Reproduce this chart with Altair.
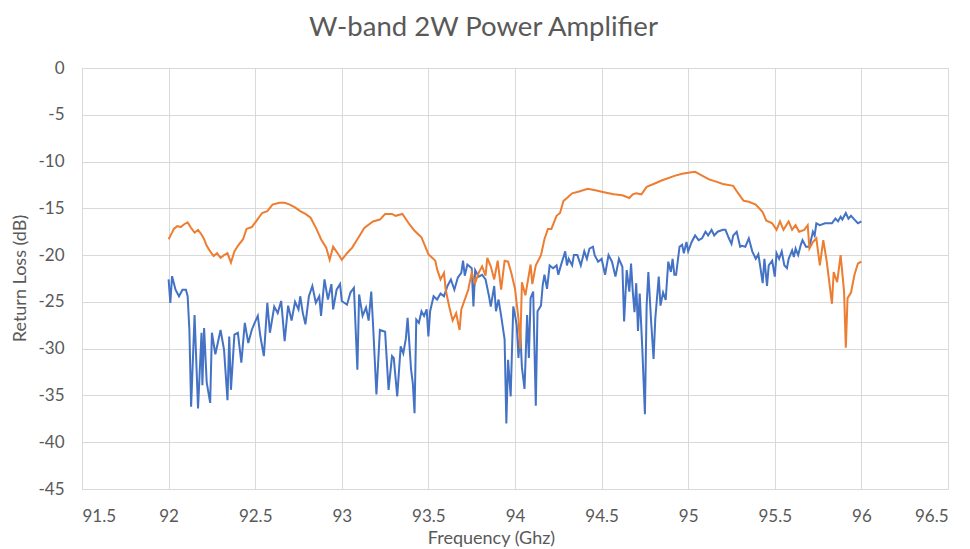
import altair as alt
import pandas as pd

TITLE = "W-band 2W Power Amplifier"
X_TITLE = "Frequency (Ghz)"
Y_TITLE = "Return Loss (dB)"
X_TICKS = [91.5, 92, 92.5, 93, 93.5, 94, 94.5, 95, 95.5, 96, 96.5]
Y_TICKS = [0, -5, -10, -15, -20, -25, -30, -35, -40, -45]

FREQ_ORANGE = [
    92.00, 92.02, 92.03, 92.05, 92.07, 92.09, 92.11, 92.13, 92.15, 92.17,
    92.19, 92.205, 92.22, 92.24, 92.26, 92.28, 92.30, 92.32, 92.34, 92.36,
    92.38, 92.40, 92.43, 92.45, 92.48, 92.505, 92.54, 92.57, 92.60, 92.64,
    92.67, 92.70, 92.73, 92.76, 92.79, 92.82, 92.855, 92.88, 92.91, 92.93,
    92.95, 92.98, 93.00, 93.03, 93.06, 93.09, 93.13, 93.18, 93.22, 93.25,
    93.29, 93.31, 93.35, 93.39, 93.42, 93.46, 93.50, 93.54, 93.55, 93.57,
    93.59, 93.60, 93.62, 93.64, 93.66, 93.68, 93.69, 93.71, 93.73, 93.75,
    93.77, 93.79, 93.81, 93.83, 93.84, 93.86, 93.88, 93.90, 93.92, 93.94,
    93.96, 93.98, 94.00, 94.02, 94.03, 94.04, 94.06, 94.09, 94.10, 94.12,
    94.15, 94.17, 94.19, 94.21, 94.24, 94.26, 94.28, 94.30, 94.33, 94.37,
    94.42, 94.47, 94.52, 94.57, 94.62, 94.66, 94.68, 94.70, 94.73, 94.76,
    94.80, 94.85, 94.925, 94.965, 95.00, 95.04, 95.08, 95.12, 95.17, 95.20,
    95.26, 95.285, 95.32, 95.35, 95.39, 95.43, 95.45, 95.485, 95.51, 95.53,
    95.55, 95.58, 95.60, 95.62, 95.64, 95.67, 95.69, 95.70, 95.72, 95.74,
    95.76, 95.78, 95.80, 95.83, 95.84, 95.86, 95.88, 95.90, 95.91, 95.92,
    95.94, 95.96, 95.98, 96.00,
]
DB_ORANGE = [
    -18.3, -17.6, -17.2, -16.9, -17.0, -16.7, -16.5, -17.1, -17.6, -17.3,
    -17.8, -18.3, -19.0, -19.6, -20.1, -19.8, -20.3, -20.0, -19.8, -20.8,
    -19.6, -19.0, -18.3, -17.2, -17.0, -16.4, -15.5, -15.3, -14.6, -14.4,
    -14.4, -14.6, -14.9, -15.3, -15.6, -16.0, -17.25, -18.3, -19.2, -20.5,
    -19.1, -19.9, -20.5, -19.8, -19.2, -18.3, -17.1, -16.4, -16.2, -15.6,
    -15.6, -15.8, -15.6, -16.7, -17.4, -18.1, -19.9, -20.6, -21.5, -22.6,
    -21.9, -23.7, -25.5, -27.0, -26.2, -28.0, -25.8, -24.75, -23.7, -21.9,
    -23.0, -21.9, -21.2, -22.2, -20.3, -21.2, -22.6, -20.6, -23.7, -20.6,
    -20.7, -22.0, -23.6, -26.8, -30.0, -22.9, -24.3, -21.0, -23.1, -21.1,
    -20.0, -18.3, -17.2, -17.2, -15.8, -15.5, -14.2, -13.9, -13.4, -13.2,
    -12.9, -13.1, -13.3, -13.5, -13.6, -13.9, -13.5, -13.4, -13.5, -12.7,
    -12.4, -12.0, -11.5, -11.3, -11.2, -11.1, -11.5, -11.9, -12.2, -12.4,
    -12.6, -13.3, -14.2, -14.3, -14.6, -15.4, -16.3, -16.6, -17.3, -16.4,
    -17.3, -16.4, -17.3, -16.8, -17.5, -17.3, -16.8, -19.3, -18.6, -18.2,
    -21.1, -18.4, -20.7, -25.2, -21.8, -22.9, -20.0, -23.9, -29.9, -24.6,
    -24.0, -22.1, -20.9, -20.7,
]

FREQ_BLUE = [
    92.00, 92.01, 92.02, 92.04, 92.06, 92.08, 92.10, 92.11, 92.12, 92.13,
    92.15, 92.17, 92.19, 92.195, 92.205, 92.22, 92.24, 92.25, 92.27, 92.30,
    92.32, 92.34, 92.35, 92.36, 92.38, 92.40, 92.42, 92.44, 92.46, 92.48,
    92.50, 92.515, 92.53, 92.55, 92.57, 92.585, 92.61, 92.63, 92.65, 92.67,
    92.69, 92.71, 92.73, 92.75, 92.76, 92.775, 92.79, 92.81, 92.83, 92.85,
    92.87, 92.88, 92.90, 92.92, 92.94, 92.95, 92.97, 92.99, 93.00, 93.03,
    93.05, 93.07, 93.09, 93.10, 93.12, 93.14, 93.155, 93.17, 93.18, 93.20,
    93.22, 93.25, 93.27, 93.29, 93.30, 93.32, 93.34, 93.355, 93.37, 93.38,
    93.40, 93.41, 93.42, 93.43, 93.445, 93.46, 93.475, 93.49, 93.50, 93.51,
    93.53, 93.55, 93.57, 93.59, 93.61, 93.63, 93.65, 93.67, 93.69, 93.70,
    93.71, 93.725, 93.75, 93.76, 93.77, 93.79, 93.81, 93.83, 93.85, 93.86,
    93.88, 93.89, 93.905, 93.92, 93.94, 93.95, 93.96, 93.975, 93.99, 94.00,
    94.01, 94.02, 94.03, 94.04, 94.055, 94.07, 94.08, 94.09, 94.105, 94.12,
    94.13, 94.15, 94.16, 94.17, 94.185, 94.20, 94.22, 94.24, 94.25, 94.265,
    94.29, 94.30, 94.31, 94.33, 94.34, 94.36, 94.38, 94.40, 94.415, 94.43,
    94.45, 94.46, 94.48, 94.50, 94.52, 94.54, 94.56, 94.58, 94.60, 94.62,
    94.63, 94.645, 94.66, 94.67, 94.68, 94.69, 94.70, 94.71, 94.72, 94.735,
    94.75, 94.76, 94.77, 94.785, 94.80, 94.81, 94.83, 94.84, 94.855, 94.87,
    94.885, 94.90, 94.91, 94.92, 94.93, 94.95, 94.965, 94.975, 94.99, 95.00,
    95.02, 95.04, 95.06, 95.08, 95.10, 95.115, 95.135, 95.15, 95.17, 95.20,
    95.215, 95.235, 95.25, 95.26, 95.28, 95.30, 95.31, 95.33, 95.35, 95.37,
    95.39, 95.405, 95.415, 95.43, 95.44, 95.455, 95.465, 95.485, 95.50, 95.51,
    95.525, 95.54, 95.555, 95.57, 95.58, 95.60, 95.61, 95.62, 95.635, 95.65,
    95.66, 95.68, 95.70, 95.72, 95.73, 95.74, 95.76, 95.79, 95.81, 95.83,
    95.85, 95.865, 95.88, 95.89, 95.91, 95.925, 95.94, 95.96, 95.98, 96.00,
]
DB_BLUE = [
    -22.6, -25.1, -22.25, -23.7, -24.4, -23.7, -23.7, -24.4, -28.0, -36.2,
    -26.4, -36.4, -28.3, -33.9, -27.8, -33.6, -35.8, -28.3, -30.6, -28.0,
    -30.1, -35.5, -28.7, -34.4, -28.5, -28.3, -31.5, -27.25, -29.4, -28.0,
    -27.1, -26.5, -28.7, -30.8, -25.1, -28.3, -25.5, -26.2, -24.9, -29.2,
    -25.4, -27.0, -25.0, -25.8, -24.4, -26.2, -27.4, -24.4, -23.3, -25.1,
    -24.4, -26.5, -22.6, -24.75, -23.1, -25.8, -23.7, -23.1, -24.9, -25.3,
    -24.0, -23.5, -32.25, -24.2, -26.5, -25.6, -27.0, -23.9, -27.25, -34.9,
    -28.0, -28.2, -34.4, -30.8, -31.0, -35.1, -29.75, -30.5, -28.9, -26.7,
    -32.25, -33.7, -36.9, -26.9, -27.25, -26.0, -26.5, -25.8, -28.7, -26.0,
    -24.4, -24.75, -24.1, -24.4, -23.3, -22.6, -23.7, -22.4, -21.9, -20.6,
    -22.2, -21.0, -21.4, -25.5, -21.6, -22.3, -22.1, -22.6, -24.4, -25.5,
    -23.3, -26.0, -24.75, -26.5, -29.0, -38.0, -31.2, -35.1, -25.5, -26.4,
    -27.5, -31.0, -28.2, -32.0, -34.3, -26.4, -31.0, -24.6, -23.9, -36.1,
    -26.0, -25.4, -23.2, -22.1, -23.6, -21.1, -21.4, -21.1, -22.1, -21.1,
    -19.6, -21.1, -20.4, -21.1, -20.0, -20.0, -21.1, -19.6, -20.4, -19.3,
    -19.1, -20.0, -20.7, -20.4, -22.1, -20.0, -20.7, -22.3, -20.4, -21.25,
    -27.1, -21.6, -23.9, -20.9, -23.9, -26.1, -23.0, -28.1, -24.1, -30.0,
    -37.0, -25.4, -21.8, -26.8, -31.1, -26.8, -22.3, -25.4, -24.0, -24.8,
    -20.7, -21.8, -20.4, -22.1, -22.1, -19.1, -18.9, -19.8, -18.6, -19.6,
    -18.6, -17.9, -18.4, -18.2, -17.5, -17.9, -17.3, -17.9, -17.5, -17.3,
    -17.3, -18.2, -18.8, -17.9, -17.5, -19.1, -19.0, -19.1, -18.2, -19.6,
    -20.4, -19.9, -21.1, -23.0, -20.4, -23.3, -21.1, -20.6, -22.3, -19.8,
    -20.4, -19.6, -21.1, -21.4, -20.4, -19.5, -20.2, -19.3, -20.0, -18.9,
    -18.4, -19.1, -19.1, -17.5, -17.9, -16.6, -16.8, -16.6, -16.6, -16.6,
    -16.1, -16.4, -15.9, -16.2, -15.5, -16.1, -15.8, -16.2, -16.6, -16.4,
]

SERIES = ["Series 1", "Series 2"]
COLORS = ["#4472C4", "#ED7D31"]

blue_df = pd.DataFrame({"freq": FREQ_BLUE, "db": DB_BLUE, "series": SERIES[0]})
orange_df = pd.DataFrame({"freq": FREQ_ORANGE, "db": DB_ORANGE, "series": SERIES[1]})
title_df = pd.DataFrame({"label": [TITLE]})

FONT = "Lato"
TEXT_COLOR = "#595959"
GRID_COLOR = "#d9d9d9"

x_enc = alt.X(
    "freq:Q",
    scale=alt.Scale(domain=[91.5, 96.5], nice=False, zero=False),
    axis=alt.Axis(
        values=X_TICKS,
        title=X_TITLE,
        labelExpr="datum.value + ''",
        titleX=409,
        titleY=49,
        titleBaseline="middle",
        titleAlign="center",
        labelPadding=19,
    ),
)
y_enc = alt.Y(
    "db:Q",
    scale=alt.Scale(domain=[-45, 0], nice=False, zero=False),
    axis=alt.Axis(
        values=Y_TICKS,
        title=Y_TITLE,
        labelExpr="datum.value + ''",
        titleX=-62,
        titleY=210,
        titleAngle=270,
        titleBaseline="middle",
        titleAlign="center",
        labelPadding=18,
    ),
)
color_enc = alt.Color(
    "series:N",
    scale=alt.Scale(domain=SERIES, range=COLORS),
    legend=None,
)

blue_line = alt.Chart(blue_df).mark_line(strokeWidth=2).encode(
    x=x_enc, y=y_enc, color=color_enc
)
orange_line = alt.Chart(orange_df).mark_line(strokeWidth=2).encode(
    x=x_enc, y=y_enc, color=color_enc
)
title_text = alt.Chart(title_df).mark_text(
    font=FONT,
    fontSize=27.5,
    color=TEXT_COLOR,
    align="center",
    baseline="alphabetic",
).encode(
    text="label:N",
    x=alt.value(401.5),
    y=alt.value(-32.5),
)

chart = (
    alt.layer(blue_line, orange_line, title_text)
    .properties(
        width=866,
        height=421,
        autosize=alt.AutoSizeParams(type="none"),
        padding={"left": 74, "top": 60, "right": 14, "bottom": 60},
    )
    .configure_axis(
        grid=True,
        gridColor=GRID_COLOR,
        gridWidth=1,
        domainColor=GRID_COLOR,
        domainWidth=1,
        ticks=False,
        labelColor=TEXT_COLOR,
        labelFont=FONT,
        labelFontSize=17,
        titleColor=TEXT_COLOR,
        titleFont=FONT,
        titleFontSize=18,
        titleFontWeight="normal",
    )
    .configure_view(stroke=None)
)

chart.save("out.html", embed_options={"renderer": "svg", "actions": False})
